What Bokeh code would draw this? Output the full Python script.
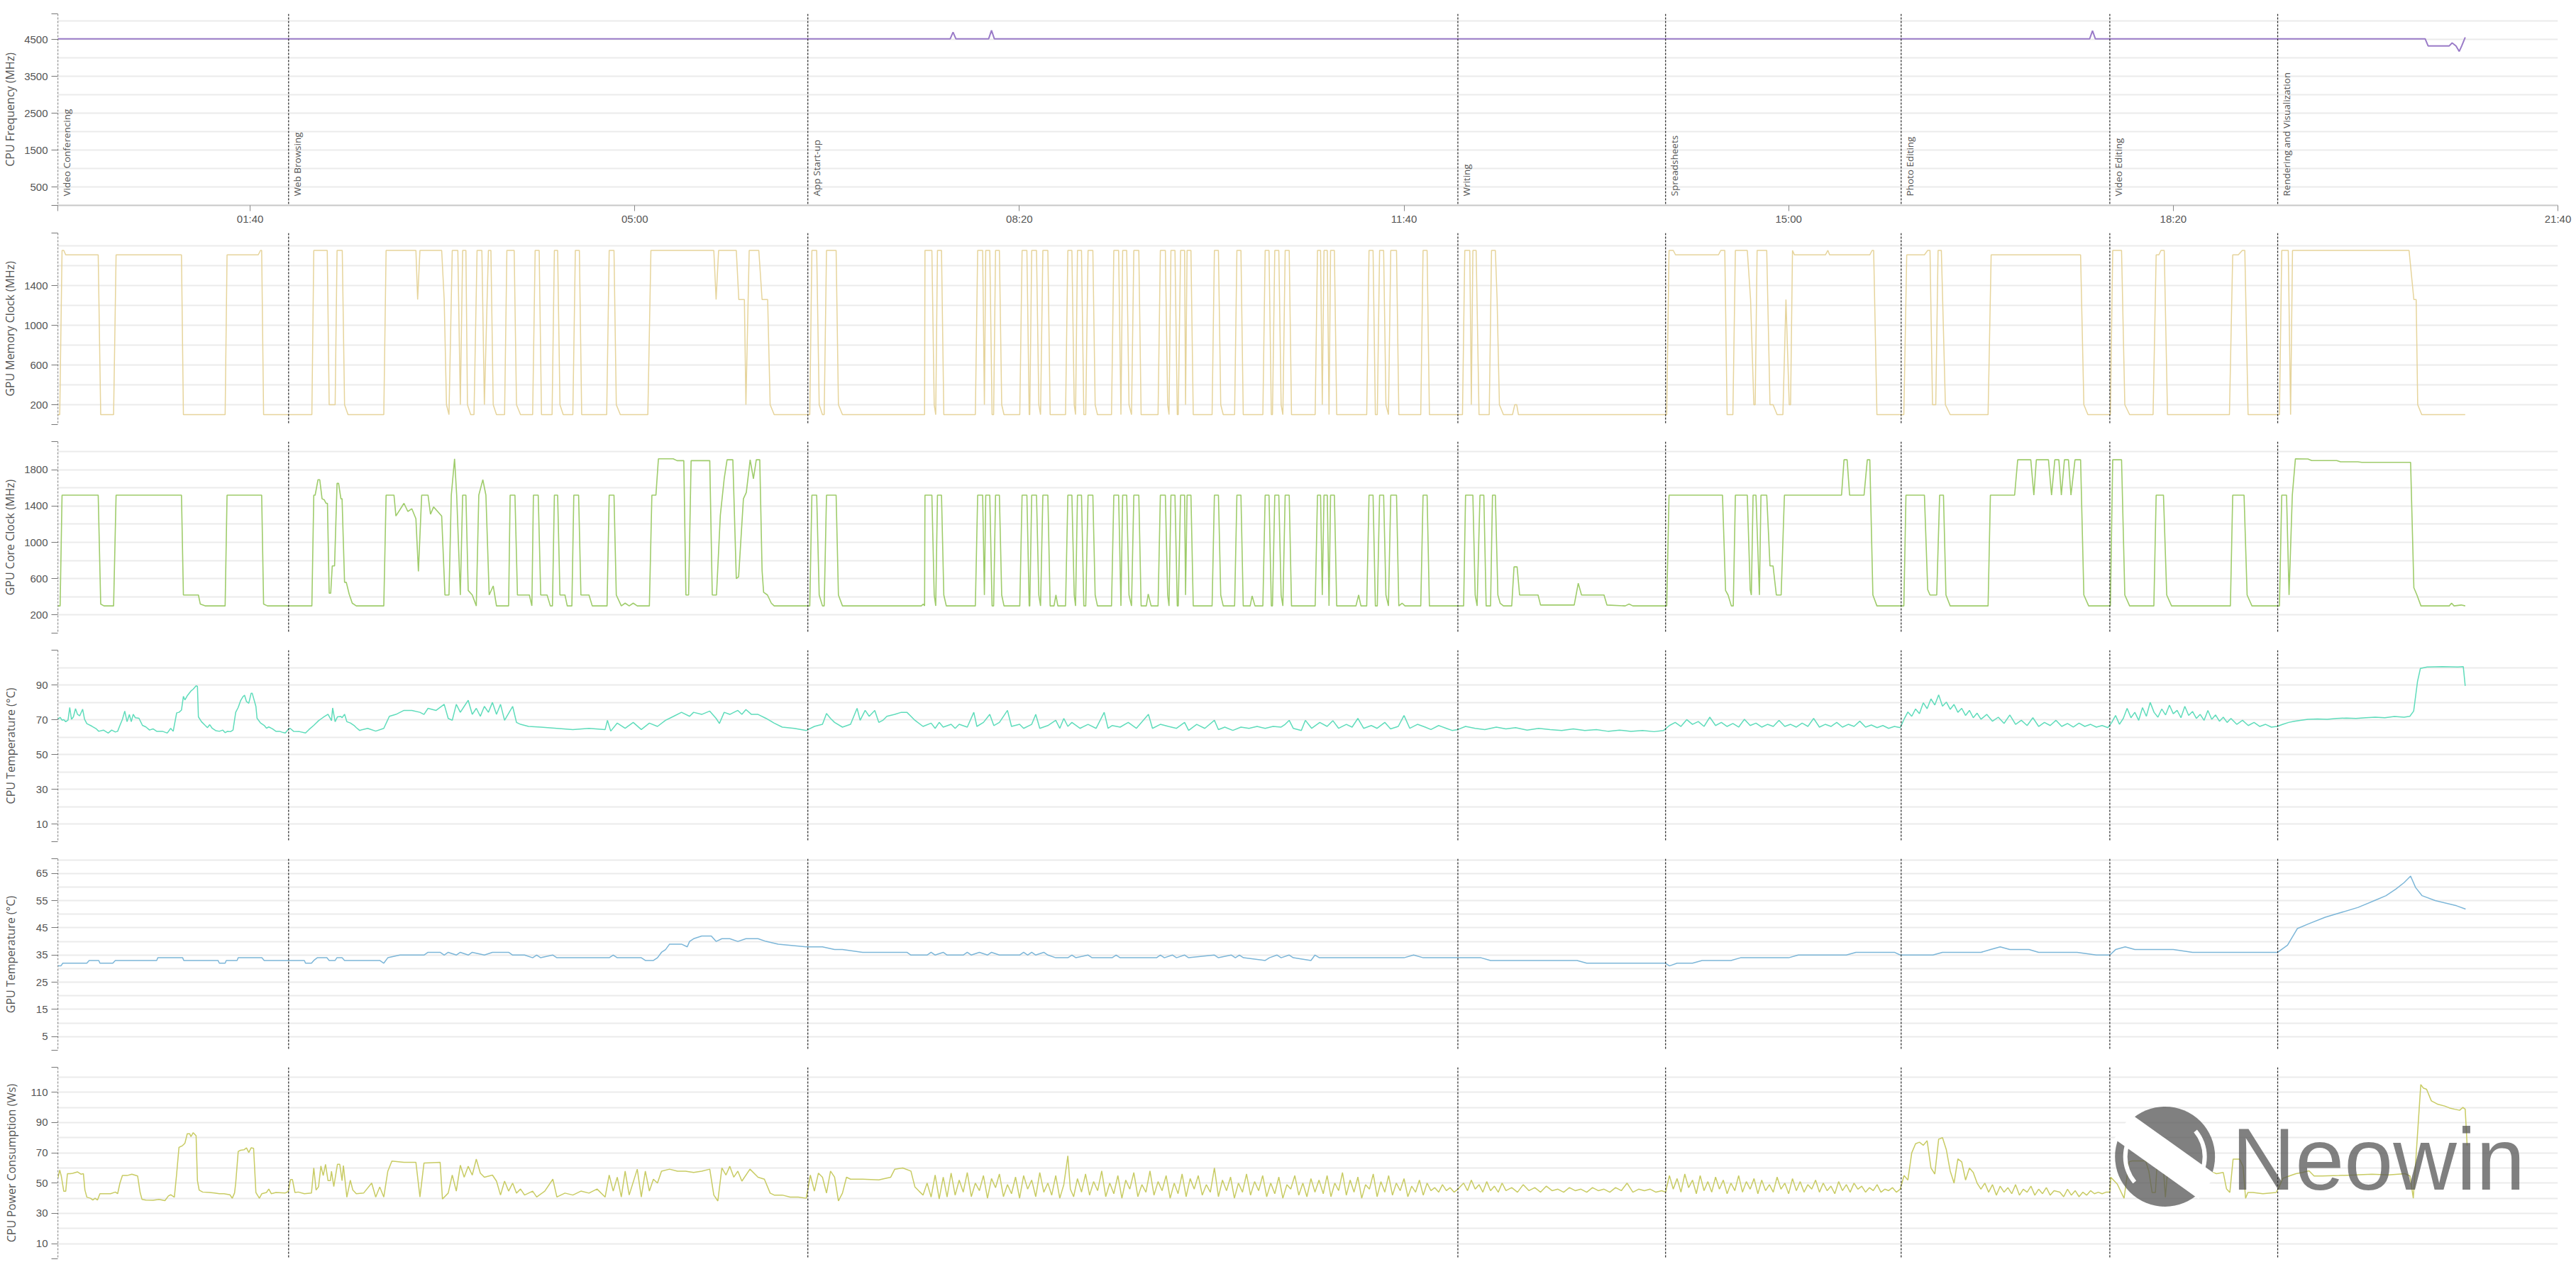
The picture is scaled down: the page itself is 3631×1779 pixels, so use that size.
import math
from bokeh.plotting import figure
from bokeh.layouts import column
from bokeh.models import Range1d, FixedTicker, Span
from bokeh.core.properties import value
from bokeh.embed import file_html
from bokeh.resources import INLINE

# ---------------- data ----------------
task_names = ["Video Conferencing", "Web Browsing", "App Start-up", "Writing",
              "Spreadsheets", "Photo Editing", "Video Editing", "Rendering and Visualization"]
task_starts = [0, 120, 390, 728, 836, 958.5, 1067, 1154.3]

x_tick_values = [100, 300, 500, 700, 900, 1100, 1300]
x_tick_labels = ["01:40", "05:00", "08:20", "11:40", "15:00", "18:20", "21:40"]

cpu_freq_pts = [(0, 4520), (464, 4520), (465.5, 4700), (467, 4520), (484, 4520), (485.5, 4750), (487, 4520),
                (1056.5, 4520), (1058, 4740), (1059.5, 4520), (1231, 4520), (1232.5, 4330), (1243.5, 4330),
                (1245, 4410), (1247, 4330), (1248.7, 4180), (1250, 4330), (1251.8, 4560)]

gpu_mem_pts = [
    (0, 100), (1, 100), (2.2, 1755), (3.1, 1755), (4.1, 1710), (21.0, 1710), (22.3, 100), (29.0, 100), (30.3, 1710),
    (64.3, 1710), (65.3, 100), (87.0, 100), (88.0, 1710), (104.2, 1710), (105.4, 1755), (106.0, 1755), (107.0, 100),
    (132.1, 100), (133.1, 1755), (140.1, 1755), (141.1, 200), (144.2, 200), (145.2, 1755), (147.9, 1755), (149.1, 200),
    (150.9, 100), (169.5, 100), (170.7, 1755), (186.2, 1755), (187.1, 1260), (188.3, 1755), (199.6, 1755), (200.9, 1260),
    (202.1, 200), (203.4, 100), (205.1, 1755), (208.0, 1755), (209.3, 200), (210.5, 1755), (212.2, 1755), (213.0, 200),
    (214.7, 100), (216.4, 100), (218.0, 1755), (220.5, 1755), (221.8, 200), (223.9, 1755), (225.2, 1755), (226.4, 200),
    (228.1, 100), (232.3, 100), (233.5, 1755), (237.3, 1755), (238.5, 200), (240.6, 100), (246.9, 100), (248.2, 1755),
    (250.3, 1755), (251.5, 100), (257.0, 100), (258.2, 1755), (259.9, 1755), (261.1, 200), (262.8, 100), (267.8, 100),
    (269.1, 1755), (271.2, 1755), (272.4, 100), (285.4, 100), (286.7, 1755), (289.2, 1755), (290.4, 200), (292.5, 100),
    (306.8, 100), (308.4, 1755), (341.1, 1755), (342.3, 1260), (343.6, 1755), (352.8, 1755), (354.1, 1260), (357.0, 1260),
    (357.8, 200), (359.5, 1755), (364.5, 1755), (366.2, 1260), (369.1, 1260), (370.4, 200), (372.5, 100),
    (391.0, 100), (392.1, 1755), (394.6, 1755), (395.9, 200), (397.6, 100), (398.5, 100), (399.7, 1755), (404.7, 1755),
    (405.9, 200), (408.0, 100), (450.7, 100),
    (450.9, 1755), (454.5, 1755), (455.7, 200), (456.5, 100), (457.4, 1755), (459.5, 1755), (460.7, 100),
    (477.1, 100), (478.3, 1755), (480.9, 1755), (481.8, 200), (482.5, 1755), (484.6, 1755), (485.8, 100), (486.6, 100),
    (487.6, 1755), (489.6, 1755), (490.8, 200), (492.0, 100),
    (500.2, 100), (501.4, 1755), (503.9, 1755), (505.1, 100), (505.4, 100), (506.4, 1755), (508.9, 1755), (510.1, 200),
    (511.0, 100), (512.2, 1755), (514.8, 1755), (516.0, 100),
    (524.0, 100), (525.2, 1755), (527.3, 1755), (528.5, 200), (529.2, 100), (530.2, 1755), (532.3, 1755), (533.5, 100),
    (534.5, 100), (535.7, 1755), (538.2, 1755), (539.4, 200), (540.6, 100),
    (547.9, 100), (549.1, 1755), (551.6, 1755), (552.8, 100), (553.7, 1755), (555.8, 1755), (557.0, 200), (558.3, 100),
    (559.5, 1755), (562.1, 1755), (563.3, 100),
    (572.1, 100), (573.3, 1755), (575.9, 1755), (577.1, 200), (577.8, 100), (578.8, 1755), (580.9, 1755), (582.1, 100),
    (582.6, 100), (583.8, 1755), (585.9, 1755), (586.4, 200), (587.2, 1755), (589.2, 1755), (590.4, 100),
    (600.2, 100), (601.4, 1755), (603.5, 1755), (604.7, 200), (606.0, 100), (611.9, 100), (613.1, 1755), (615.2, 1755),
    (616.4, 100), (626.6, 100), (627.8, 1755), (629.8, 1755), (631.0, 100), (631.6, 100), (632.8, 1755), (634.9, 1755),
    (636.1, 200), (637.0, 100), (638.2, 1755), (640.3, 1755), (641.5, 100),
    (653.8, 100), (655.0, 1755), (656.6, 1755), (657.5, 200), (658.4, 1755), (660.1, 1755), (661.0, 100), (661.8, 1755),
    (663.8, 1755), (665.0, 100), (680.6, 100), (681.8, 1755), (683.9, 1755), (685.1, 100), (686.1, 100), (687.3, 1755),
    (689.4, 1755), (690.6, 200), (691.9, 100), (693.1, 1755), (696.1, 1755), (697.3, 100), (708.7, 100), (709.9, 1755),
    (712.0, 1755), (713.2, 100),
    (730.4, 100), (731.6, 1755), (734.2, 1755), (735.0, 200), (735.8, 1755), (737.5, 1755), (739.0, 100), (744.3, 100),
    (745.5, 1755), (747.5, 1755), (748.4, 1260), (749.6, 200), (751.7, 100), (756.4, 100), (757.6, 200), (758.6, 200),
    (759.5, 100), (836.6, 100),
    (837.8, 1755), (840.0, 1755), (841.2, 1710), (863.5, 1710), (864.7, 1755), (866.8, 1755), (868.0, 100), (871.0, 100),
    (872.3, 1755), (878.5, 1755), (880.2, 1260), (881.9, 200), (882.6, 200), (883.6, 1755), (888.6, 1755), (890.3, 200),
    (891.9, 200), (894.0, 100), (897.0, 100), (898.6, 1260), (900.3, 200), (901.0, 200), (902.0, 1755), (903.0, 1710),
    (919.1, 1710), (920.4, 1755), (921.3, 1710), (942.2, 1710), (943.4, 1755), (944.2, 1755), (945.9, 100),
    (959.9, 100), (961.4, 1710), (970.6, 1710), (972.3, 1755), (973.5, 1755), (974.8, 200), (976.5, 200), (977.7, 1755),
    (979.4, 1755), (981.5, 200), (984.0, 100), (1003.7, 100), (1005.3, 1710), (1051.8, 1710), (1053.5, 200), (1055.6, 100),
    (1067.3, 100), (1068.5, 1755), (1073.1, 1755), (1074.8, 200), (1077.3, 100), (1089.5, 100), (1091.1, 1710),
    (1092.5, 1710), (1093.6, 1755), (1095.3, 1755), (1097.0, 100), (1129.2, 100), (1130.9, 1710), (1133.8, 1710),
    (1135.9, 1755), (1137.2, 1755), (1138.9, 100),
    (1155.2, 100), (1156.4, 1755), (1159.8, 1755), (1161.0, 100), (1162.0, 1755), (1222.6, 1755), (1225.1, 1260),
    (1226.3, 1260), (1227.1, 200), (1229.2, 100), (1251.8, 100)]

gpu_core_pts = [
    (0, 300), (1.2, 300), (2.2, 1520), (21.0, 1520), (22.3, 320), (24.0, 300), (29.0, 300), (30.3, 1520), (64.3, 1520),
    (65.3, 420), (73.1, 420), (74.1, 320), (76.6, 300), (87.0, 300), (88.0, 1520), (106.0, 1520), (107.0, 320),
    (109.0, 300), (132.1, 300), (133.1, 1520), (133.8, 1520), (135.3, 1690), (136.2, 1690), (137.4, 1480), (138.5, 1470),
    (139.5, 1430), (140.2, 1430), (141.1, 440), (141.9, 440), (142.7, 740), (143.9, 740), (145.2, 1650), (146.0, 1650),
    (147.2, 1480), (147.8, 1480), (149.1, 560), (150.0, 560), (151.5, 430), (153.1, 330), (155.2, 300),
    (169.5, 300), (170.7, 1520), (174.8, 1520), (175.8, 1290), (177.9, 1360), (180.0, 1430), (182.0, 1340),
    (184.1, 1370), (186.2, 1260), (187.5, 680), (189.2, 1520), (192.5, 1520), (193.8, 1310), (195.4, 1390),
    (197.5, 1340), (199.6, 1290), (201.3, 420), (203.4, 420), (204.6, 1520), (206.3, 1920), (207.4, 1520), (209.3, 420),
    (210.5, 1520), (212.2, 1520), (213.4, 470), (215.5, 420), (217.6, 300), (218.9, 1520), (221.0, 1690), (222.6, 1520),
    (224.3, 420), (226.4, 520), (228.1, 300), (234.4, 300), (235.2, 1520), (237.7, 1520), (239.0, 420), (245.2, 420),
    (246.5, 300), (247.3, 1520), (249.8, 1520), (251.1, 420), (254.4, 420), (256.1, 300), (257.2, 300), (258.2, 1520),
    (259.9, 1520), (261.1, 420), (263.7, 420), (264.9, 300), (267.3, 300), (268.3, 1520), (270.8, 1520), (272.0, 420),
    (276.2, 420), (277.9, 300), (285.6, 300), (286.7, 1520), (289.2, 1520), (290.4, 420), (293.0, 300), (295.0, 330),
    (297.1, 300), (299.2, 330), (301.3, 300),
    (307.6, 300), (308.9, 1520), (311.0, 1520), (312.3, 1920), (320.0, 1920), (322.0, 1900), (325.5, 1900),
    (326.6, 420), (328.0, 420), (329.3, 1900), (339.0, 1900), (340.3, 420), (342.5, 420), (344.5, 1300), (346.5, 1700),
    (348.0, 1910), (351.0, 1910), (352.8, 600), (354.0, 620), (356.5, 1480), (358.0, 1550), (360.0, 1910),
    (361.7, 1700), (363.2, 1910), (365.0, 1910), (366.2, 690), (367.0, 450), (369.0, 420), (371.0, 330), (372.5, 300),
    (391.0, 300), (392.1, 1520), (394.6, 1520), (395.9, 420), (397.6, 300), (398.5, 300), (399.7, 1520), (404.7, 1520),
    (405.9, 420), (408.0, 300), (449.0, 300), (450.0, 320), (450.7, 300),
    (450.9, 1520), (454.5, 1520), (455.7, 420), (456.5, 300), (457.4, 1520), (459.5, 1520), (460.7, 420), (462.0, 300),
    (477.1, 300), (478.3, 1520), (480.9, 1520), (481.8, 420), (482.5, 1520), (484.6, 1520), (485.8, 300), (486.6, 300),
    (487.6, 1520), (489.6, 1520), (490.8, 420), (492.0, 300),
    (500.2, 300), (501.4, 1520), (503.9, 1520), (505.1, 300), (505.4, 300), (506.4, 1520), (508.9, 1520), (510.1, 420),
    (511.0, 300), (512.2, 1520), (514.8, 1520), (516.0, 300), (518.0, 300), (519.0, 420), (520.0, 300),
    (524.0, 300), (525.2, 1520), (527.3, 1520), (528.5, 420), (529.2, 300), (530.2, 1520), (532.3, 1520), (533.5, 300),
    (534.5, 300), (535.7, 1520), (538.2, 1520), (539.4, 420), (540.6, 300),
    (547.9, 300), (549.1, 1520), (551.6, 1520), (552.8, 300), (553.7, 1520), (555.8, 1520), (557.0, 420), (558.3, 300),
    (559.5, 1520), (562.1, 1520), (563.3, 300), (566.0, 300), (567.0, 430), (568.5, 300),
    (572.1, 300), (573.3, 1520), (575.9, 1520), (577.1, 420), (577.8, 300), (578.8, 1520), (580.9, 1520), (582.1, 300),
    (582.6, 300), (583.8, 1520), (585.9, 1520), (586.4, 420), (587.2, 1520), (589.2, 1520), (590.4, 300),
    (600.2, 300), (601.4, 1520), (603.5, 1520), (604.7, 420), (606.0, 300), (611.9, 300), (613.1, 1520), (615.2, 1520),
    (616.4, 300), (620.0, 300), (621.0, 410), (622.5, 300),
    (626.6, 300), (627.8, 1520), (629.8, 1520), (631.0, 300), (631.6, 300), (632.8, 1520), (634.9, 1520), (636.1, 420),
    (637.0, 300), (638.2, 1520), (640.3, 1520), (641.5, 300),
    (653.8, 300), (655.0, 1520), (656.6, 1520), (657.5, 420), (658.4, 1520), (660.1, 1520), (661.0, 300), (661.8, 1520),
    (663.8, 1520), (665.0, 300), (675.0, 300), (676.4, 420), (677.6, 300), (680.6, 300), (681.8, 1520), (683.9, 1520),
    (685.1, 300), (686.1, 300), (687.3, 1520), (689.4, 1520), (690.6, 420), (691.9, 300), (693.1, 1520), (696.1, 1520),
    (697.3, 300), (699.0, 330), (700.5, 300), (708.7, 300), (709.9, 1520), (712.0, 1520), (713.2, 300),
    (731.0, 300), (732.0, 1520), (735.8, 1520), (737.0, 420), (738.0, 300), (739.5, 1520), (741.5, 1520), (742.7, 300),
    (745.0, 300), (746.0, 1520), (747.5, 1520), (748.8, 420), (750.0, 330), (751.7, 300), (756.0, 300), (757.2, 730),
    (758.8, 730), (760.1, 420), (769.7, 420), (771.0, 310), (788.5, 310), (790.6, 550), (792.3, 420), (804.0, 420),
    (805.5, 310), (815.0, 300), (817.0, 320), (819.0, 300), (836.6, 300),
    (837.8, 1520), (865.6, 1520), (867.2, 470), (868.5, 420), (870.2, 300), (871.2, 300), (872.3, 1520), (878.5, 1520),
    (880.0, 480), (880.6, 420), (881.5, 1520), (883.0, 1520), (884.8, 420), (885.6, 1520), (888.6, 1520), (890.3, 740),
    (891.9, 740), (893.6, 420), (896.1, 420), (897.8, 1520), (927.5, 1520), (928.8, 1910), (930.4, 1910), (931.7, 1520),
    (939.2, 1520), (940.9, 1910), (942.2, 1910), (943.8, 420), (945.9, 300),
    (959.9, 300), (961.0, 1520), (970.6, 1520), (972.3, 480), (973.5, 420), (977.0, 420), (978.5, 1520), (980.5, 1520),
    (981.8, 420), (984.0, 300), (1003.7, 300), (1004.9, 1520), (1017.5, 1520), (1019.1, 1910), (1025.9, 1910),
    (1027.5, 1520), (1028.8, 1910), (1035.1, 1910), (1036.7, 1520), (1038.4, 1910), (1040.5, 1910), (1041.8, 1520),
    (1043.4, 1910), (1045.5, 1910), (1046.8, 1520), (1048.9, 1910), (1051.8, 1910), (1053.5, 420), (1056.0, 300),
    (1067.3, 300), (1068.5, 1910), (1073.1, 1910), (1074.8, 420), (1077.3, 300), (1089.9, 300), (1091.1, 1520),
    (1094.9, 1520), (1096.6, 420), (1099.1, 300), (1129.7, 300), (1130.9, 1520), (1136.8, 1520), (1138.4, 420),
    (1140.9, 300),
    (1155.2, 300), (1156.4, 1520), (1158.9, 1520), (1160.2, 420), (1161.9, 1520), (1163.5, 1920), (1170.0, 1919),
    (1172.0, 1901), (1185.0, 1901), (1187.0, 1887), (1196.0, 1887), (1198.0, 1881), (1223.4, 1881), (1225.1, 500),
    (1226.7, 420), (1228.8, 300), (1243.5, 300), (1244.7, 330), (1246.0, 300), (1249.7, 310), (1251.8, 300)]

cpu_temp_pts = [
    (0.0, 70.3), (1.2, 71.4), (2.2, 69.8), (3.1, 70.1), (4.1, 68.9), (5.3, 69.8), (6.2, 77.1), (7.1, 70.3), (8.1, 71.7),
    (9.2, 76.4), (10.2, 73.2), (11.4, 72.3), (12.9, 76.1), (13.9, 70.3), (15.1, 67.8), (17.6, 66.4), (20.0, 64.8),
    (21.3, 63.4), (23.7, 64.1), (26.2, 62.4), (28.0, 64.1), (29.9, 63.0), (31.1, 63.4), (32.3, 66.8), (33.6, 70.3),
    (34.8, 75.0), (36.0, 68.9), (37.2, 73.0), (38.2, 68.9), (39.2, 73.2), (40.3, 71.2), (42.2, 70.9), (44.0, 66.8),
    (45.8, 65.9), (47.7, 64.1), (49.5, 64.8), (51.4, 63.4), (54.4, 63.4), (56.9, 62.4), (58.7, 65.1), (60.0, 63.4),
    (61.8, 74.0), (63.0, 74.3), (64.3, 75.6), (65.3, 83.5), (66.1, 81.4), (67.3, 83.8), (69.2, 86.5), (70.4, 87.6),
    (71.9, 89.5), (72.6, 89.2), (73.1, 71.7), (74.7, 68.9), (76.6, 66.8), (77.8, 65.5), (79.0, 67.2), (80.3, 65.1),
    (82.1, 63.8), (84.0, 63.4), (85.8, 64.1), (87.0, 62.6), (88.2, 63.4), (89.8, 63.2), (91.1, 64.1), (92.5, 74.3),
    (93.8, 77.1), (95.0, 80.9), (96.2, 83.2), (97.1, 84.1), (98.1, 80.5), (99.3, 79.5), (100.5, 85.2), (101.1, 85.2),
    (103.0, 77.7), (103.6, 70.9), (105.4, 68.2), (107.3, 66.8), (108.5, 65.2), (109.7, 65.9), (111.6, 64.8),
    (113.4, 63.4), (115.3, 63.4), (117.1, 62.7), (118.3, 62.4), (119.8, 64.5), (120.8, 65.1), (122.6, 63.4),
    (125.7, 63.2), (128.8, 62.4), (130.6, 64.4), (133.1, 66.8), (135.6, 69.5), (138.0, 71.4), (140.5, 73.2),
    (142.3, 69.5), (142.9, 76.8), (144.2, 68.9), (145.4, 71.7), (147.2, 71.9), (147.8, 71.2), (149.1, 73.2),
    (150.3, 68.9), (152.1, 68.2), (154.0, 66.8), (155.2, 65.5),
    (156.9, 63.9), (161.1, 65.1), (165.3, 63.5), (169.5, 65.1), (172.4, 72.0), (175.8, 73.1), (180.0, 75.4),
    (184.1, 75.4), (188.3, 74.3), (190.4, 73.1), (192.5, 76.6), (196.7, 75.4), (200.9, 78.9), (203.0, 70.8),
    (205.1, 69.7), (207.2, 78.9), (209.3, 74.3), (211.3, 77.7), (213.4, 81.2), (215.5, 73.1), (217.6, 76.6),
    (219.7, 72.0), (221.8, 77.7), (223.9, 74.3), (226.0, 80.0), (228.1, 73.1), (230.2, 78.9), (232.3, 69.7),
    (236.5, 77.7), (238.5, 68.5), (240.6, 67.4), (244.8, 66.2), (251.1, 65.8), (259.5, 65.1), (267.8, 64.4),
    (276.2, 65.1), (284.6, 64.4), (285.8, 69.7), (287.5, 63.5), (290.9, 68.1), (295.0, 65.1), (299.2, 68.5),
    (303.4, 64.4), (307.6, 68.1), (311.8, 66.2), (316.0, 69.7), (320.2, 72.0), (324.3, 74.3), (328.5, 72.0),
    (330.6, 74.3), (334.8, 73.1), (339.0, 75.0), (342.3, 70.8), (344.0, 67.9), (346.5, 74.3), (349.4, 73.1),
    (353.6, 75.4), (355.7, 73.1), (357.8, 75.9), (360.7, 73.1), (364.1, 73.1), (368.3, 70.8), (372.5, 68.1),
    (376.7, 65.8), (382.9, 65.1), (389.2, 63.9), (393.4, 66.2), (397.6, 67.4), (399.7, 73.6), (401.8, 70.8),
    (403.9, 68.5), (408.0, 65.8), (412.2, 67.4), (415.6, 76.6), (417.2, 69.7), (419.8, 75.4), (421.9, 72.0),
    (424.8, 75.4), (426.9, 68.5), (429.0, 69.7), (431.1, 72.0), (435.2, 73.1), (438.6, 74.3), (441.5, 74.3),
    (443.6, 72.0), (445.7, 69.7), (449.9, 66.2), (454.1, 68.1), (456.2, 65.1), (458.3, 68.5), (460.4, 65.8),
    (464.5, 67.4), (466.6, 65.1), (468.7, 67.4), (472.9, 65.8), (476.3, 74.3), (477.9, 66.2), (481.3, 68.5),
    (484.6, 73.1), (486.7, 66.7), (489.6, 68.5), (493.8, 75.4), (495.9, 66.2), (500.1, 67.4), (502.2, 65.1),
    (506.4, 67.4), (508.5, 73.1), (510.6, 65.1), (514.8, 66.7), (518.9, 69.7), (521.0, 65.1), (523.1, 70.8),
    (525.2, 66.2), (527.3, 68.5), (531.5, 65.1), (535.7, 67.4), (539.9, 65.1), (544.1, 74.3), (546.1, 65.1),
    (548.2, 66.7), (552.4, 65.8), (556.6, 68.5), (560.8, 65.1), (567.1, 73.1), (569.2, 65.1), (573.3, 67.4),
    (577.5, 66.2), (581.7, 65.1), (585.9, 68.5), (588.0, 63.9), (592.2, 67.4), (596.4, 65.1), (601.4, 69.7),
    (603.5, 64.4), (606.8, 65.8), (611.0, 63.9), (615.2, 65.8), (619.4, 65.1), (623.6, 66.2), (627.8, 65.1),
    (631.9, 66.2), (636.1, 65.8), (638.2, 67.4), (640.3, 69.7), (642.4, 65.1), (646.6, 63.9), (648.7, 69.7),
    (652.0, 65.1), (656.2, 68.5),
    (660, 66.2), (663, 69.5), (666, 65.1), (670, 67.4), (673, 65.8), (676, 70.8), (679, 65.1), (683, 66.7), (686, 65.1),
    (690, 68.5), (693, 64.8), (697, 66.2), (700, 72.5), (703, 65.1), (707, 67.4), (711, 65.8), (714, 64.4), (718, 66.7),
    (722, 65.1), (725, 63.9), (728, 64.4),
    (732, 66.2), (737, 65.1), (742, 64.4), (748, 65.8), (753, 64.8), (758, 65.5), (764, 64.1), (770, 65.1), (776, 64.4),
    (782, 63.9), (788, 64.8), (794, 63.9), (800, 64.4), (806, 63.4), (812, 64.1), (818, 63.4), (824, 63.9), (830, 63.2),
    (835, 63.9),
    (838, 66.7), (841, 68.5), (844, 66.2), (847, 70.1), (850, 67.4), (853, 69.0), (856, 66.2), (859, 71.5), (862, 66.7),
    (865, 68.5), (868, 66.2), (871, 67.9), (874, 65.8), (877, 70.3), (880, 66.7), (883, 68.1), (886, 65.8), (889, 67.4),
    (892, 66.2), (895, 69.7), (898, 66.2), (901, 67.4), (904, 65.8), (907, 68.1), (910, 66.2), (913, 70.8), (916, 65.8),
    (919, 67.4), (922, 66.2), (925, 68.5), (928, 65.8), (931, 67.4), (934, 66.2), (937, 69.2), (940, 65.8), (943, 67.0),
    (946, 65.5), (949, 66.7), (952, 65.1), (955, 66.2), (958, 65.5),
    (960, 70.3), (962, 74.5), (964, 72.0), (966, 76.2), (968, 73.5), (970, 79.8), (972, 76.4), (974, 82.0), (976, 78.5),
    (978, 84.3), (980, 77.8), (982, 80.2), (984, 76.0), (986, 78.8), (988, 74.3), (990, 76.6), (992, 72.5), (994, 75.4),
    (996, 71.2), (998, 73.8), (1000, 70.3), (1003, 73.1), (1006, 69.2), (1009, 71.5), (1012, 67.9), (1015, 72.8),
    (1018, 67.4), (1021, 69.7), (1024, 66.7), (1027, 71.2), (1030, 66.2), (1033, 68.5), (1036, 66.7), (1039, 69.7),
    (1042, 66.2), (1045, 67.9), (1048, 65.8), (1051, 68.1), (1054, 66.2), (1057, 67.4), (1060, 65.8), (1063, 66.7),
    (1066, 65.5),
    (1068, 68.5), (1070, 72.5), (1072, 67.4), (1074, 70.8), (1076, 76.6), (1078, 71.2), (1080, 74.3), (1082, 69.7),
    (1084, 77.0), (1086, 72.0), (1088, 80.0), (1090, 74.3), (1092, 71.5), (1094, 76.2), (1096, 72.8), (1098, 78.4),
    (1100, 73.5), (1102, 75.4), (1104, 71.2), (1106, 77.7), (1108, 72.5), (1110, 74.8), (1112, 70.8), (1114, 73.1),
    (1116, 69.7), (1118, 75.4), (1120, 70.3), (1122, 72.8), (1124, 69.2), (1126, 71.5), (1128, 68.5), (1130, 70.8),
    (1133, 67.4), (1136, 69.7), (1139, 66.7), (1142, 68.5), (1145, 66.2), (1148, 67.4), (1151, 65.8), (1154, 66.2),
    (1157, 67.4), (1160, 68.5), (1163, 69.2), (1166, 69.7), (1170, 70.3), (1175, 70.5), (1180, 70.3), (1185, 70.8),
    (1190, 71.0), (1195, 70.8), (1200, 71.2), (1205, 71.5), (1210, 71.2), (1215, 71.9), (1220, 71.5), (1223, 72.0),
    (1225, 75.0), (1227, 92.0), (1228.5, 99.5), (1232, 100.3), (1240, 100.5), (1248, 100.3), (1250.8, 100.5),
    (1251.8, 89.5)]

gpu_temp_pts = [
    (0, 31), (1.6, 31), (2.6, 32), (15.1, 32), (16.3, 33), (21.3, 33), (21.9, 32), (28.6, 32), (29.9, 33), (51.4, 33),
    (52.0, 34), (64.9, 34), (65.5, 33), (83.3, 33), (84.0, 32), (87.0, 32), (87.6, 33), (93.2, 33), (93.8, 34),
    (106.1, 34), (107.3, 33), (128.2, 33), (128.8, 32), (131.9, 32), (133.1, 33), (134.9, 34), (139.9, 34), (141.1, 33),
    (144.2, 33), (145.1, 34), (147.8, 34), (149.1, 33), (167.4, 33), (169.5, 32), (171.6, 34), (177.9, 35),
    (190.4, 35), (192.5, 36), (198.8, 36), (200.9, 35), (203.0, 36), (207.2, 35), (209.3, 36), (213.4, 35), (215.5, 36),
    (221.8, 35), (226.0, 36), (234.4, 36), (236.5, 35), (242.7, 35), (246.9, 34), (249.0, 35), (251.1, 34), (257.4, 35),
    (259.5, 34), (286.7, 34), (288.8, 35), (290.9, 34), (303.4, 34), (305.5, 33), (309.7, 33), (311.8, 34), (313.9, 36),
    (316.0, 37), (318.1, 39), (324.3, 39), (327.3, 38), (328.5, 40), (330.6, 41), (334.8, 42), (339.8, 42), (342.3, 40),
    (345.3, 41), (349.4, 41), (353.6, 40), (357.8, 41), (364.1, 41), (368.3, 40), (374.6, 39), (389.2, 38), (397.6, 38),
    (403.9, 37), (408.0, 37), (418.5, 36), (422.7, 36), (441.5, 36), (443.6, 35), (452.0, 35), (454.1, 36), (456.2, 35),
    (460.4, 36), (462.4, 35), (470.8, 35), (472.9, 36), (475.0, 35), (479.2, 36), (483.4, 35), (485.5, 36), (489.6, 35),
    (500.1, 35), (502.2, 36), (504.3, 35), (506.4, 36), (508.5, 35), (512.7, 36), (514.8, 35), (518.9, 34), (525.2, 34),
    (527.3, 35), (529.4, 34), (535.7, 35), (537.8, 34), (548.2, 34), (550.3, 35), (552.4, 34), (571.3, 34), (573.3, 35),
    (575.4, 34), (579.6, 35), (581.7, 34), (585.9, 35), (588.0, 34), (601.4, 35), (603.5, 34), (610.2, 35), (612.3, 34),
    (614.4, 35), (616.5, 34), (627.8, 33), (630.0, 34), (634.0, 35), (636.1, 34), (640.3, 35), (642.4, 34), (651.6, 33),
    (653.7, 35), (656, 34), (700, 34), (705, 35), (710, 34), (740, 34), (745, 33), (790, 33), (795, 32), (836, 32),
    (838, 31), (842, 32), (850, 32), (855, 33), (870, 33), (875, 34), (900, 34), (905, 35), (930, 35), (935, 36),
    (955, 36), (958, 35), (975, 35), (980, 36), (1000, 36), (1005, 37), (1010, 38), (1015, 37), (1025, 37), (1030, 36),
    (1050, 36), (1060, 35), (1067, 35), (1070, 37), (1075, 38), (1080, 37), (1100, 37), (1110, 36), (1150, 36),
    (1154.3, 36), (1159.4, 38.6), (1164.5, 44.7), (1170.5, 46.5), (1179.0, 48.9), (1187.6, 50.7), (1196.1, 52.5),
    (1204.6, 55.0), (1210.6, 56.8), (1215.7, 59.2), (1220.0, 61.6), (1223.4, 64.0), (1226.0, 59.8), (1229.4, 56.8),
    (1236.2, 55.0), (1247.3, 53.1), (1252.0, 51.9)]

cpu_power_pts = [
    (0.0, 53.1), (1.0, 58.6), (1.8, 54.7), (3.1, 44.6), (4.1, 44.6), (5.0, 56.2), (6.5, 56.2), (7.7, 56.5), (10.2, 57.4),
    (12.0, 55.9), (13.3, 56.2), (14.1, 45.4), (15.1, 40.7), (17.0, 40.0), (18.2, 38.8), (19.4, 40.0), (20.6, 38.8),
    (21.9, 43.0), (23.7, 43.0), (27.4, 43.0), (29.9, 44.1), (31.1, 43.0), (32.3, 50.0), (33.6, 55.0), (36.0, 55.0),
    (38.5, 55.9), (41.5, 54.7), (42.8, 43.8), (43.8, 39.2), (45.8, 38.8), (49.5, 38.7), (52.6, 39.2), (55.7, 38.4),
    (57.5, 41.5), (58.7, 42.3), (60.6, 40.7), (61.8, 56.2), (63.0, 73.6), (64.9, 74.8), (66.1, 76.4), (67.3, 82.6),
    (68.6, 82.6), (69.2, 80.7), (70.4, 83.3), (71.9, 81.3), (72.6, 51.6), (73.5, 45.4), (75.3, 44.1), (79.0, 43.8),
    (81.5, 43.5), (84.0, 43.0), (86.4, 43.0), (89.5, 42.3), (90.7, 40.0), (91.9, 43.5), (92.5, 50.0), (93.8, 70.9),
    (95.0, 71.7), (96.8, 72.0), (98.1, 73.3), (99.3, 70.2), (100.5, 73.3), (101.8, 73.0), (103.0, 43.8), (104.8, 40.0),
    (106.1, 43.0), (108.5, 43.8), (109.7, 46.1), (111.0, 43.0), (113.4, 43.8), (118.3, 43.5), (119.8, 44.4),
    (121.0, 52.3), (122.0, 52.3), (123.3, 43.8), (125.1, 44.1), (128.2, 43.0), (131.9, 43.5), (133.1, 60.1),
    (134.3, 45.4), (135.6, 47.7), (136.8, 61.3), (138.0, 55.0), (139.2, 62.4), (140.5, 51.6), (141.7, 51.6),
    (142.3, 57.8), (143.5, 47.7), (145.4, 62.4), (146.6, 62.4), (147.8, 51.6), (148.5, 61.6), (150.3, 40.7),
    (152.1, 51.9), (153.4, 45.4), (155.2, 43.0),
    (159.0, 43.4), (163.2, 50.0), (165.3, 40.8), (167.4, 47.4), (169.5, 40.8), (171.6, 57.9), (173.7, 64.5),
    (180.0, 63.7), (186.2, 63.7), (188.3, 40.8), (190.4, 63.2), (198.8, 63.7), (200.0, 39.5), (203.0, 43.4),
    (205.1, 55.3), (207.2, 44.7), (209.3, 61.8), (211.3, 53.9), (213.4, 61.1), (215.5, 55.3), (217.6, 65.8),
    (219.7, 56.6), (221.8, 53.9), (226.0, 55.3), (228.1, 51.3), (230.2, 42.1), (232.3, 51.3), (234.4, 44.7),
    (236.5, 50.0), (238.5, 43.4), (240.6, 46.1), (242.7, 42.1), (246.9, 44.7), (249.0, 40.8), (253.2, 44.7),
    (257.4, 52.6), (259.5, 40.8), (263.7, 43.4), (267.8, 42.1), (272.0, 44.7), (276.2, 43.4), (280.4, 46.1),
    (284.6, 40.8), (286.7, 55.3), (288.8, 44.7), (290.9, 53.9), (293.0, 40.8), (295.0, 57.9), (297.1, 42.1),
    (301.3, 59.2), (303.4, 40.8), (305.5, 57.9), (307.6, 44.7), (309.7, 52.6), (311.8, 50.0), (313.9, 57.9),
    (318.1, 59.2), (322.2, 57.9), (326.4, 57.9), (330.6, 57.0), (334.8, 57.9), (339.0, 59.2), (341.1, 42.1),
    (343.2, 38.2), (345.3, 60.0), (347.4, 55.3), (349.4, 61.1), (351.5, 53.9), (353.6, 57.9), (355.7, 51.3),
    (359.9, 59.2), (364.1, 53.9), (367.4, 52.6), (370.4, 43.4), (372.5, 42.1), (376.7, 42.1), (380.8, 40.8),
    (385.0, 40.8), (389.2, 40.0),
    (391.3, 55.3), (393.4, 44.7), (395.5, 56.6), (397.6, 53.9), (399.7, 43.4), (401.8, 57.9), (403.9, 53.9),
    (405.9, 38.2), (408.0, 43.4), (410.1, 53.9), (412.2, 52.6), (418.5, 52.6), (426.9, 52.1), (433.1, 53.9),
    (435.2, 59.2), (439.4, 60.0), (443.6, 57.9), (445.7, 47.4), (447.8, 44.7), (449.9, 42.1), (452.0, 50.0),
    (454.1, 40.8), (456.2, 55.3), (458.3, 39.5), (460.4, 53.9), (462.4, 40.8), (464.5, 56.6), (466.6, 42), (468.7, 52),
    (470.8, 44), (472.9, 57), (475.0, 41), (477.1, 50), (479.2, 45), (481.3, 55), (483.4, 40), (485.5, 53), (487.6, 47),
    (489.6, 56), (491.7, 41), (493.8, 49), (495.9, 43), (498.0, 54), (500.1, 40), (502.2, 55), (504.3, 46), (506.4, 52),
    (508.5, 41), (510.6, 57), (512.7, 44), (514.8, 50), (516.8, 42), (518.9, 55), (521.0, 40), (523.1, 49), (525.2, 68),
    (526.5, 46), (528.2, 41), (530.2, 53), (532.3, 44), (534.4, 56), (536.5, 42), (538.6, 51), (540.7, 45), (542.8, 58),
    (544.9, 41), (547.0, 50), (549.1, 43), (551.2, 55), (553.3, 40), (555.3, 52), (557.4, 46), (559.5, 57), (561.6, 41),
    (563.7, 49), (565.8, 44), (567.9, 58), (570.0, 42), (572.1, 51), (574.2, 45), (576.3, 55), (578.4, 40), (580.5, 50),
    (582.5, 43), (584.6, 56), (586.7, 41), (588.8, 53), (590.9, 46), (593.0, 55), (595.1, 42), (597.2, 49), (599.3, 44),
    (601.4, 60), (603.5, 41), (605.6, 52), (607.7, 45), (609.8, 54), (611.8, 40), (613.9, 50), (616.0, 44), (618.1, 56),
    (620.2, 42), (622.3, 51), (624.4, 45), (626.5, 55), (628.6, 41), (630.7, 50), (632.8, 43), (634.9, 54), (637.0, 40),
    (639.1, 49), (641.1, 46), (643.2, 55), (645.3, 42), (647.4, 50), (649.5, 41), (651.6, 53), (653.7, 44), (655.8, 52),
    (658, 43), (660, 55), (662, 41), (664, 50), (666, 45), (668, 57), (670, 42), (672, 52), (674, 44), (676, 54),
    (678, 40), (680, 49), (682, 46), (684, 56), (686, 41), (688, 51), (690, 44), (692, 55), (694, 42), (696, 50),
    (698, 45), (700, 53), (702, 41), (704, 48), (706, 44), (708, 52), (710, 42), (712, 50), (714, 45), (716, 47),
    (718, 44), (720, 49), (722, 45), (724, 47), (726, 44), (728, 46),
    (731, 50), (733, 45), (735, 52), (737, 46), (739, 49), (741, 44), (743, 51), (745, 45), (747, 48), (749, 44),
    (751, 50), (753, 45), (756, 47), (759, 44), (762, 49), (765, 45), (768, 47), (771, 44), (774, 48), (777, 45),
    (780, 46), (783, 44), (786, 47), (789, 45), (792, 46), (795, 44), (798, 47), (801, 45), (804, 46), (807, 44),
    (810, 47), (813, 45), (816, 50), (819, 44), (822, 46), (825, 45), (828, 46), (831, 44), (834, 45), (836, 44),
    (838, 55), (840, 46), (842, 53), (844, 44), (846, 56), (848, 47), (850, 52), (852, 43), (854, 55), (856, 45),
    (858, 51), (860, 44), (862, 54), (864, 46), (866, 52), (868, 43), (870, 50), (872, 45), (874, 55), (876, 44),
    (878, 51), (880, 46), (882, 53), (884, 43), (886, 52), (888, 45), (890, 49), (892, 44), (894, 54), (896, 46),
    (898, 50), (900, 43), (902, 53), (904, 45), (906, 51), (908, 44), (910, 49), (912, 46), (914, 52), (916, 44),
    (918, 50), (920, 45), (922, 48), (924, 43), (926, 51), (928, 45), (930, 49), (932, 44), (934, 50), (936, 46),
    (938, 48), (940, 44), (942, 47), (944, 45), (946, 49), (948, 44), (950, 46), (952, 45), (954, 47), (956, 44),
    (958, 46),
    (960, 55), (962, 52), (964, 70), (966, 76), (968, 77), (970, 75), (972, 78), (974, 60), (976, 56), (978, 79),
    (980, 80), (982, 72), (984, 58), (986, 50), (988, 66), (990, 64), (992, 52), (994, 60), (996, 57), (998, 50),
    (1000, 46), (1002, 50), (1004, 44), (1006, 49), (1008, 42), (1010, 48), (1012, 44), (1014, 47), (1016, 43),
    (1018, 49), (1020, 42), (1022, 46), (1024, 44), (1026, 48), (1028, 42), (1030, 46), (1032, 43), (1034, 47),
    (1036, 42), (1038, 45), (1041, 44), (1043, 41), (1045, 46), (1047, 42), (1049, 45), (1051, 41), (1053, 44),
    (1055, 42), (1057, 45), (1059, 43), (1061, 44), (1063, 43), (1065, 44), (1067, 44),
    (1067.5, 53.9), (1070.9, 49.3), (1074.4, 40.0), (1077.0, 64.0), (1078.7, 64.7), (1085.6, 64.7), (1087.3, 57.8),
    (1089.0, 43.8), (1090.7, 43.8), (1092.4, 80.2), (1093.6, 80.2), (1094.7, 62.4), (1095.9, 40.7), (1097.1, 59.3),
    (1098.4, 57.8), (1108.8, 57.0), (1119.1, 57.0), (1120.8, 57.0), (1122.5, 56.2), (1126.0, 57.0), (1127.7, 46.1),
    (1129.4, 43.8), (1131.1, 65.8), (1134.5, 65.8), (1136.3, 60.9), (1137.6, 40.0), (1138.8, 43.8), (1141.4, 43.8),
    (1146.6, 43.0), (1153.5, 43.8), (1154.8, 46.9), (1156.9, 53.1), (1160.3, 54.7), (1163.8, 56.2), (1167.2, 57.0),
    (1170.6, 58.1), (1173.2, 54.7), (1177.5, 54.7), (1186.1, 55.0), (1194.7, 55.4), (1203.3, 55.9), (1211.9, 55.4),
    (1220.5, 56.2), (1223.1, 54.7), (1224.8, 40.0), (1228.7, 115.1), (1230.0, 112.8), (1231.7, 112.0),
    (1234.2, 104.3), (1237.7, 102.0), (1241.1, 100.9), (1243.7, 99.6), (1246.3, 98.8), (1248.9, 98.1),
    (1250.6, 100.0), (1251.8, 98.8), (1252.8, 74.8)]

# panel definitions: series, color, line width, title, y max, labelled ticks, grid step
panels = [
    (cpu_freq_pts, "#9a7bc8", 2.0, "CPU Frequency (MHz)", 5200, [500, 1500, 2500, 3500, 4500], 500),
    (gpu_mem_pts, "#e6d49b", 1.5, "GPU Memory Clock (MHz)", 1930, [200, 600, 1000, 1400], 200),
    (gpu_core_pts, "#9fcc6b", 1.6, "GPU Core Clock (MHz)", 2110, [200, 600, 1000, 1400, 1800], 200),
    (cpu_temp_pts, "#5fdcbb", 1.5, "CPU Temperature (°C)", 110, [10, 30, 50, 70, 90], 10),
    (gpu_temp_pts, "#7cb6d8", 1.5, "GPU Temperature (°C)", 70.4, [5, 15, 25, 35, 45, 55, 65], 5),
    (cpu_power_pts, "#c8cb63", 1.5, "CPU Power Consumption (Ws)", 126.5, [10, 30, 50, 70, 90, 110], 10),
]

# ---------------- layout ----------------
PLOT_W = 3628
x_range = Range1d(0, 1300)
figs = []
for i, (pts, color, lw, title, ymax, ticks, step) in enumerate(panels):
    if i == 0:
        h, bt, bb = 328, 19, 39
    elif i == len(panels) - 1:
        h, bt, bb = 273, 0, 3
    else:
        h, bt, bb = 294, 0, 24
    p = figure(width=PLOT_W, height=h, x_range=x_range, y_range=Range1d(0, ymax),
               output_backend="svg", toolbar_location=None,
               min_border_left=79, min_border_right=23, min_border_top=bt, min_border_bottom=bb,
               outline_line_color=None, background_fill_color="white", border_fill_color="white")
    p.xgrid.visible = False
    grid_vals = []
    g = 0.0
    while g <= ymax + 1e-9:
        grid_vals.append(g)
        g += step
    p.ygrid.ticker = FixedTicker(ticks=grid_vals)
    p.ygrid.grid_line_color = "#ebebeb"
    p.ygrid.grid_line_width = 2

    yax = p.yaxis[0]
    yax.ticker = FixedTicker(ticks=[0] + ticks + [ymax], minor_ticks=[])
    yax.major_label_overrides = {0: "", ymax: ""}
    yax.axis_line_color = None
    yax.major_tick_line_color = "#777777"
    yax.major_tick_out = 9
    yax.major_tick_in = 0
    yax.minor_tick_line_color = None
    yax.major_label_text_font = "Liberation Sans"
    yax.major_label_text_font_size = "15px"
    yax.major_label_text_color = "#555555"
    yax.major_label_standoff = 5
    yax.axis_label = title
    yax.axis_label_text_font = "Open Sans"
    yax.axis_label_text_font_size = "16px"
    yax.axis_label_text_font_style = "normal"
    yax.axis_label_text_color = "#555555"
    ndig = max(len(str(t)) for t in ticks)
    yax.axis_label_standoff = 6 + (4 - ndig) * 8

    if i == 0:
        xax = p.xaxis[0]
        xax.ticker = FixedTicker(ticks=[0] + x_tick_values, minor_ticks=[])
        ov = {0: ""}
        for tv, tl in zip(x_tick_values, x_tick_labels):
            ov[tv] = tl
        xax.major_label_overrides = ov
        xax.axis_line_color = "#c8c8c8"
        xax.axis_line_width = 2
        xax.major_tick_line_color = "#888888"
        xax.major_tick_out = 8
        xax.major_tick_in = 0
        xax.minor_tick_line_color = None
        xax.major_label_text_font = "Liberation Sans"
        xax.major_label_text_font_size = "15px"
        xax.major_label_text_color = "#555555"
        xax.major_label_standoff = 2
    else:
        p.xaxis.visible = False

    xs = [q[0] for q in pts]
    ys = [q[1] for q in pts]
    p.line(xs, ys, line_color=color, line_width=lw)

    for t in task_starts:
        p.add_layout(Span(location=t, dimension="height", line_color="#222222",
                          line_dash="3 2", line_width=1.2))
    figs.append(p)

# task labels in the top panel
figs[0].text(x=task_starts, y=[250] * len(task_starts), text=task_names, angle=math.pi / 2,
             text_font=value("Open Sans"), text_font_size="13.5px", text_color="#555555",
             text_align="left", text_baseline="top", x_offset=3)

# watermark (bottom panel)
p6 = figs[-1]
logo_x, logo_y = 1095.7, 67.5
p6.scatter(x=[logo_x], y=[logo_y], size=141, marker="circle", fill_color="#555555",
           fill_alpha=0.75, line_color=None)
p6.rect(x=[logo_x], y=[logo_y], width=146, height=42, width_units="screen", height_units="screen",
        angle=-35.5 * math.pi / 180, fill_color="white", line_color=None)
p6.annular_wedge(x=[logo_x, logo_x], y=[logo_y, logo_y], inner_radius=53, outer_radius=59,
                 inner_radius_units="screen", outer_radius_units="screen",
                 start_angle=[140 * math.pi / 180, -40 * math.pi / 180],
                 end_angle=[220 * math.pi / 180, 40 * math.pi / 180],
                 fill_color="white", line_color=None)
p6.text(x=[1130.4], y=[65.6], text=["Neowin"], text_font=value("Liberation Sans"),
        text_font_size="124px", text_color="#555555", text_alpha=0.75,
        text_align="left", text_baseline="middle")

layout = column(*figs, spacing=0)
open("out.html", "w").write(file_html(layout, INLINE))
